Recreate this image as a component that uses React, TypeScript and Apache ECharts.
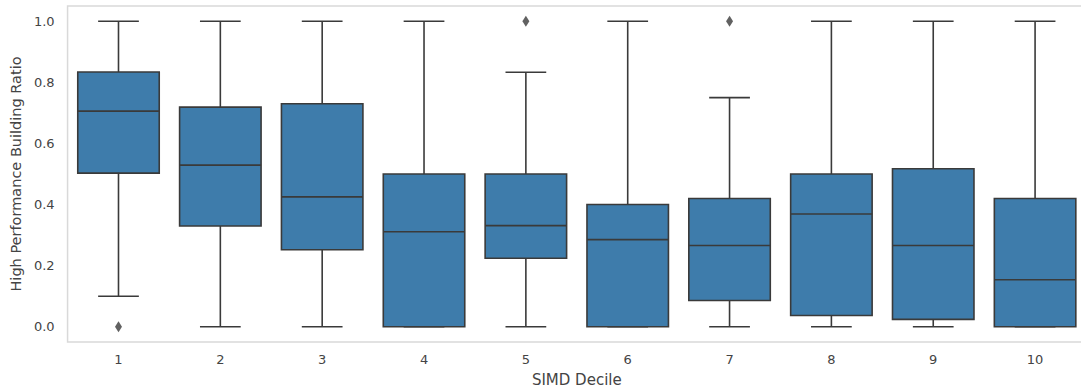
import React, { useEffect, useRef } from "react";
import * as echarts from "echarts";

const categories = ["1", "2", "3", "4", "5", "6", "7", "8", "9", "10"];
const whiskerLow = [0.1, 0, 0, 0, 0, 0, 0, 0, 0, 0];
const q1 = [0.503, 0.33, 0.252, 0, 0.224, 0, 0.086, 0.037, 0.024, 0];
const median = [0.706, 0.529, 0.425, 0.311, 0.331, 0.285, 0.266, 0.369, 0.266, 0.154];
const q3 = [0.834, 0.719, 0.73, 0.5, 0.5, 0.4, 0.42, 0.5, 0.517, 0.42];
const whiskerHigh = [1, 1, 1, 1, 0.833, 1, 0.75, 1, 1, 1];
const outlierCategory = ["1", "5", "7"];
const outlierValue = [0, 1, 1];
const yTicks = [0, 0.2, 0.4, 0.6, 0.8, 1.0];

const BOX_FILL = "#3e7cab";
const EDGE = "#3a3a3a";
const FONT = "DejaVu Sans";

export default function App() {
  const ref = useRef<HTMLDivElement>(null);
  useEffect(() => {
    if (!ref.current) return;
    const chart = echarts.init(ref.current, null, { renderer: "svg" });
    const boxData = categories.map((_, i) => [i, whiskerLow[i], q1[i], median[i], q3[i], whiskerHigh[i]]);
    chart.setOption({
      animation: false,
      backgroundColor: "#ffffff",
      grid: {
        left: 66,
        right: 0,
        top: 6,
        bottom: 49,
        show: true,
        borderColor: "#d9d9d9",
        borderWidth: 1.5,
        backgroundColor: "transparent",
      },
      xAxis: {
        type: "category",
        data: categories,
        boundaryGap: true,
        axisLine: { show: false },
        axisTick: { show: false },
        splitLine: { show: false },
        axisLabel: { color: "#444", fontSize: 13, fontFamily: FONT, margin: 11 },
        name: "SIMD Decile",
        nameLocation: "middle",
        nameGap: 30,
        nameTextStyle: { color: "#444", fontSize: 15, fontFamily: FONT },
      },
      yAxis: {
        type: "value",
        min: -0.05,
        max: 1.05,
        axisLine: { show: false },
        axisTick: { show: false },
        splitLine: { show: false },
        axisLabel: {
          color: "#444",
          fontSize: 13,
          fontFamily: FONT,
          margin: 13,
          customValues: yTicks,
          formatter: (v: number) => v.toFixed(1),
        },
        name: "High Performance Building Ratio",
        nameLocation: "middle",
        nameGap: 36,
        nameTextStyle: { color: "#444", fontSize: 14.5, fontFamily: FONT },
      },
      series: [
        {
          type: "custom",
          data: boxData,
          encode: { x: 0, y: [1, 2, 3, 4, 5] },
          renderItem: (params: any, api: any) => {
            const idx = api.value(0);
            const band = api.size([1, 0])[0];
            const bw = band * 0.8;
            const cw = bw / 2;
            const pLo = api.coord([idx, api.value(1)]);
            const pQ1 = api.coord([idx, api.value(2)]);
            const pMed = api.coord([idx, api.value(3)]);
            const pQ3 = api.coord([idx, api.value(4)]);
            const pHi = api.coord([idx, api.value(5)]);
            const x = pMed[0];
            const ls = { stroke: EDGE, lineWidth: 1.6 };
            return {
              type: "group",
              children: [
                { type: "line", shape: { x1: x, y1: pQ1[1], x2: x, y2: pLo[1] }, style: ls },
                { type: "line", shape: { x1: x, y1: pQ3[1], x2: x, y2: pHi[1] }, style: ls },
                { type: "line", shape: { x1: x - cw / 2, y1: pLo[1], x2: x + cw / 2, y2: pLo[1] }, style: ls },
                { type: "line", shape: { x1: x - cw / 2, y1: pHi[1], x2: x + cw / 2, y2: pHi[1] }, style: ls },
                {
                  type: "rect",
                  shape: { x: x - bw / 2, y: pQ3[1], width: bw, height: pQ1[1] - pQ3[1] },
                  style: { fill: BOX_FILL, stroke: EDGE, lineWidth: 1.6 },
                },
                { type: "line", shape: { x1: x - bw / 2, y1: pMed[1], x2: x + bw / 2, y2: pMed[1] }, style: ls },
              ],
            };
          },
        },
        {
          type: "scatter",
          data: outlierCategory.map((c, i) => [c, outlierValue[i]]),
          symbol: "diamond",
          symbolSize: [7, 11],
          itemStyle: { color: EDGE },
        },
      ],
    });
    return () => chart.dispose();
  }, []);
  return (
    <div
      ref={ref}
      style={{ position: "fixed", left: 0, top: 0, width: 1086, height: 392, background: "#fff" }}
    />
  );
}
